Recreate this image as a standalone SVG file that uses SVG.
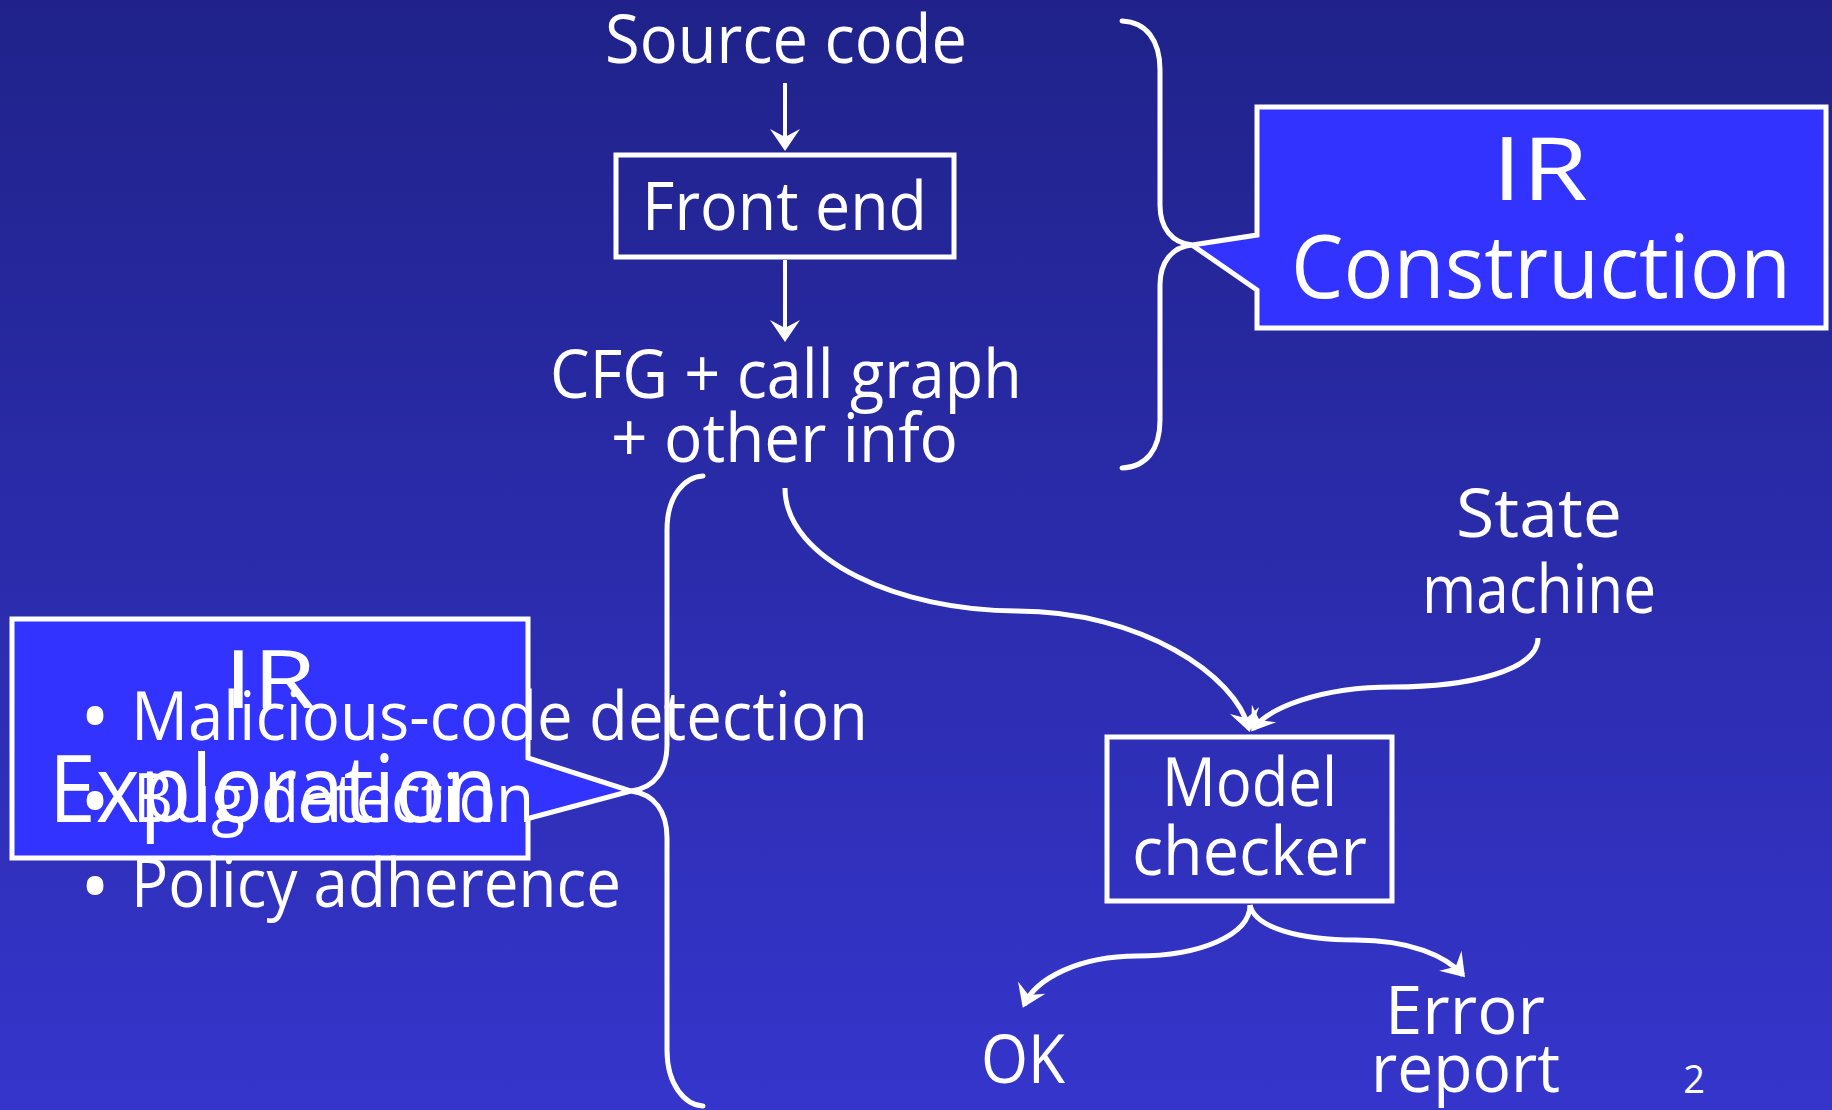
<svg xmlns="http://www.w3.org/2000/svg" width="1832" height="1110" viewBox="0 0 1832 1110">
  <defs>
    <linearGradient id="bg" x1="0" y1="0" x2="0" y2="1">
      <stop offset="0" stop-color="#20228a"/>
      <stop offset="1" stop-color="#3535cc"/>
    </linearGradient>
    <marker id="head" viewBox="-26 -18 30 36" refX="-3" refY="0" markerWidth="30" markerHeight="36" markerUnits="userSpaceOnUse" orient="auto">
      <path d="M0,0 L-22,-15 L-14,0 L-22,15 Z" fill="#ffffff"/>
    </marker>
    <style>
      .t { font-family: "Open Sans", "Liberation Sans", sans-serif; fill: #ffffff; font-size: 67px; }
      .big { font-size: 87px; }
      .ir2 { font-size: 80px; }
      .expl { font-size: 94px; }
      .dot { font-size: 80px; text-anchor: middle; }
      .pg { font-size: 38px; text-anchor: middle; }
      .box { fill: none; stroke: #ffffff; stroke-width: 5; }
      .callout { fill: #3333ff; stroke: #ffffff; stroke-width: 5; stroke-linejoin: miter; }
      .wire { fill: none; stroke: #ffffff; stroke-width: 5; stroke-linecap: round; }
      .arrow { fill: none; stroke: #ffffff; stroke-width: 4; marker-end: url(#head); }
      .curve { fill: none; stroke: #ffffff; stroke-width: 5; marker-end: url(#head); }
    </style>
  </defs>

  <!-- slide background -->
  <rect x="0" y="0" width="1832" height="1110" fill="url(#bg)"/>

  <!-- curly brackets grouping the stages -->
  <g id="brackets">
    <path class="wire" d="M1122,21 C1146,22 1160,40 1160,70 L1160,205 C1160,228 1172,243 1192,245 C1172,247 1160,262 1160,285 L1160,420 C1160,450 1146,467 1122,468"/>
    <path class="wire" d="M703,476 C685,477 667,495 667,530 L667,745 C667,770 655,788 631,791 C655,794 667,812 667,838 L667,1050 C667,1085 685,1105 703,1106"/>
  </g>

  <!-- connectors -->
  <g id="connectors">
    <line class="arrow" x1="785" y1="83" x2="785" y2="148"/>
    <line class="arrow" x1="785" y1="260" x2="785" y2="339"/>
    <path class="curve" d="M785,488 C785,560 900,611 1017,611 C1140,611 1236,675 1249,729"/>
    <path class="curve" d="M1538,638 C1538,670 1470,687 1393,687 C1320,687 1268,708 1253,729"/>
    <path class="curve" d="M1250,905 C1250,935 1200,956 1137,956 C1080,956 1036,978 1024,1005"/>
    <path class="curve" d="M1250,905 C1255,928 1300,940 1356,940 C1410,940 1446,956 1463,975"/>
  </g>

  <g id="source-code">
    <text class="t" x="605" y="63" textLength="362" lengthAdjust="spacingAndGlyphs">Source code</text>
  </g>

  <g id="front-end">
    <rect class="box" x="616" y="155" width="338" height="102"/>
    <text class="t" x="642" y="230" textLength="285" lengthAdjust="spacingAndGlyphs">Front end</text>
  </g>

  <g id="cfg">
    <text class="t" x="550" y="398" textLength="472" lengthAdjust="spacingAndGlyphs">CFG + call graph</text>
    <text class="t" x="611" y="462" textLength="347" lengthAdjust="spacingAndGlyphs">+ other info</text>
  </g>

  <g id="ir-construction">
    <polygon class="callout" points="1257,107 1826,107 1826,328 1257,328 1257,290 1192,245 1257,235"/>
    <text class="t big" x="1492" y="200" textLength="96" lengthAdjust="spacingAndGlyphs">IR</text>
    <text class="t big" x="1291" y="298" textLength="500" lengthAdjust="spacingAndGlyphs">Construction</text>
  </g>

  <g id="state-machine">
    <text class="t" x="1456" y="537" textLength="166" lengthAdjust="spacingAndGlyphs">State</text>
    <text class="t" x="1422" y="613" textLength="234" lengthAdjust="spacingAndGlyphs">machine</text>
  </g>

  <g id="model-checker">
    <rect class="box" x="1107" y="737" width="285" height="164"/>
    <text class="t" x="1162" y="806" textLength="175" lengthAdjust="spacingAndGlyphs">Model</text>
    <text class="t" x="1132" y="875" textLength="235" lengthAdjust="spacingAndGlyphs">checker</text>
  </g>

  <g id="ok">
    <text class="t" x="981" y="1083" textLength="84" lengthAdjust="spacingAndGlyphs">OK</text>
  </g>

  <g id="error-report">
    <text class="t" x="1385" y="1034" textLength="160" lengthAdjust="spacingAndGlyphs">Error</text>
    <text class="t" x="1371" y="1092" textLength="189" lengthAdjust="spacingAndGlyphs">report</text>
  </g>

  <g id="ir-exploration">
    <polygon class="callout" points="12,619 528,619 528,758 631,791 530,818 528,818 528,858 12,858"/>
    <text class="t ir2" x="224" y="708" textLength="92" lengthAdjust="spacingAndGlyphs">IR</text>
    <text class="t expl" x="49" y="822" textLength="448" lengthAdjust="spacingAndGlyphs">Exploration</text>
  </g>

  <g id="uses">
    <text class="t dot" x="95" y="745">•</text>
    <text class="t" x="131" y="740" textLength="737" lengthAdjust="spacingAndGlyphs">Malicious-code detection</text>
    <text class="t dot" x="95" y="830">•</text>
    <text class="t" x="133" y="822" textLength="401" lengthAdjust="spacingAndGlyphs">Bug detection</text>
    <text class="t dot" x="95" y="915">•</text>
    <text class="t" x="131" y="907" textLength="490" lengthAdjust="spacingAndGlyphs">Policy adherence</text>
  </g>

  <g id="page-number">
    <text class="t pg" x="1694" y="1093">2</text>
  </g>
</svg>
